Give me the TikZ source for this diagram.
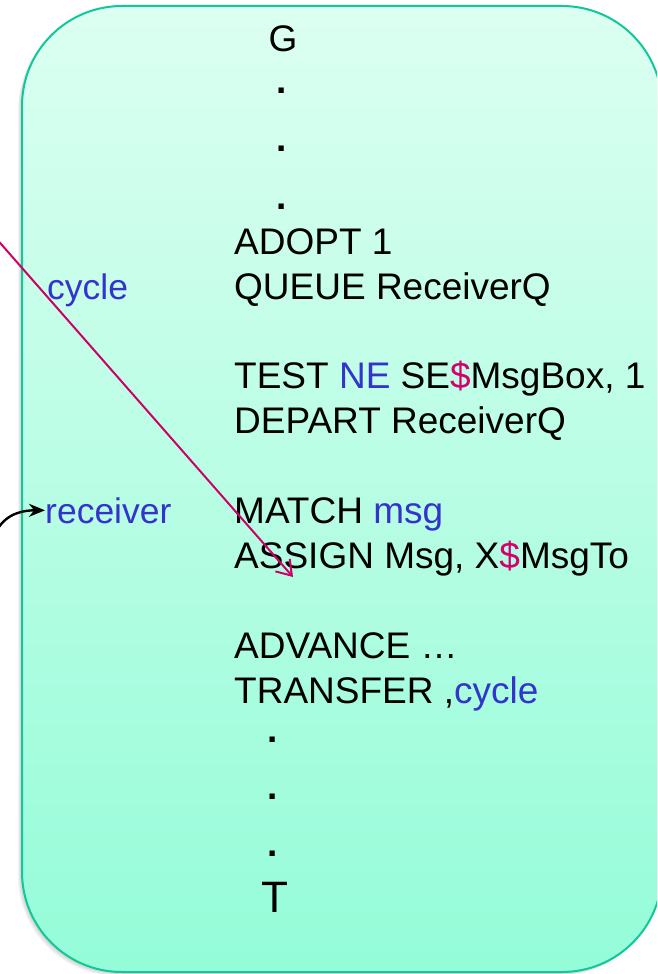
\documentclass[tikz,border=0pt]{standalone}
\usepackage{fontspec}
\setmainfont{Liberation Sans}
\usetikzlibrary{arrows.meta}

\definecolor{kwblue}{HTML}{3434CC}
\definecolor{dollar}{HTML}{D4006C}
\definecolor{linkpink}{HTML}{CC0066}
\definecolor{frame}{HTML}{10C898}
\definecolor{filltop}{HTML}{DCFFF1}
\definecolor{fillbot}{HTML}{94FCD8}

\newcommand{\kw}[1]{\textcolor{kwblue}{#1}}
\newcommand{\dl}{\textcolor{dollar}{\$}}

\begin{document}
\begin{tikzpicture}[x=1pt, y=-1pt,
  code/.style={inner sep=0pt, anchor=base west, font=\fontsize{37}{44}\selectfont},
  dotline/.style={inner sep=0pt, anchor=base, font=\fontsize{37}{44}\selectfont\bfseries},
  lbl/.style={inner sep=0pt, anchor=base west, text=kwblue, font=\fontsize{35.5}{44}\selectfont},
  panel/.style={rounded corners=100pt},
  shadowlayer/.style={panel, fill=black, fill opacity=0.05, draw=none},
  jump/.style={draw=linkpink, line width=2pt, -{Straight Barb[length=14pt, width=19pt, line width=2pt]}},
  enter/.style={draw=black, line width=2.4pt, -{Stealth[length=16pt, width=13pt]}}
]
\useasboundingbox (0,0) rectangle (657,974);
\clip (0,0) rectangle (657,974);

% soft shadow behind the panel
\foreach \o in {1,2,3,4}
  \fill[shadowlayer] (22-\o,6+\o) rectangle (662-\o,972+\o);

% the panel with its gradient fill
\shade[panel, top color=filltop, bottom color=fillbot] (22,6) rectangle (662,972);
\draw[panel, draw=frame, line width=2pt] (22,6) rectangle (662,972);

% program text
\node[code, anchor=base] (g) at (283,52) {G};
\node[dotline] (d1) at (282,93)  {.};
\node[dotline] (d2) at (282,151) {.};
\node[dotline] (d3) at (282,209) {.};
\node[code] (adopt)    at (234,254) {ADOPT 1};
\node[code] (queue)    at (234,299) {QUEUE ReceiverQ};
\node[code] (test)     at (234,388) {TEST \kw{NE} SE\dl MsgBox, 1};
\node[code] (depart)   at (234,433) {DEPART ReceiverQ};
\node[code] (match)    at (234,523) {MATCH \kw{msg}};
\node[code] (assign)   at (234,568) {ASSIGN Msg, X\dl MsgTo};
\node[code] (advance)  at (234,658) {ADVANCE …};
\node[code] (transfer) at (234,703) {TRANSFER ,\kw{cycle}};
\node[dotline] (e1) at (273,742) {.};
\node[dotline] (e2) at (273,799) {.};
\node[dotline] (e3) at (273,856) {.};
\node[code, anchor=base, font=\fontsize{44}{50}\selectfont] (t) at (275,912) {T};

% labels in the left column
\node[lbl] (lcycle)    at (47,299) {cycle};
\node[lbl] (lreceiver) at (45,523) {receiver};

% connectors
\coordinate (jumpfrom) at (-20,220);
\coordinate (jumpto)   at (293,577);
\draw[jump] (jumpfrom) -- (jumpto);

\coordinate (enterfrom) at (-3,530);
\draw[enter] (enterfrom) to[out=60, in=180] (lreceiver.west);
\end{tikzpicture}
\end{document}
